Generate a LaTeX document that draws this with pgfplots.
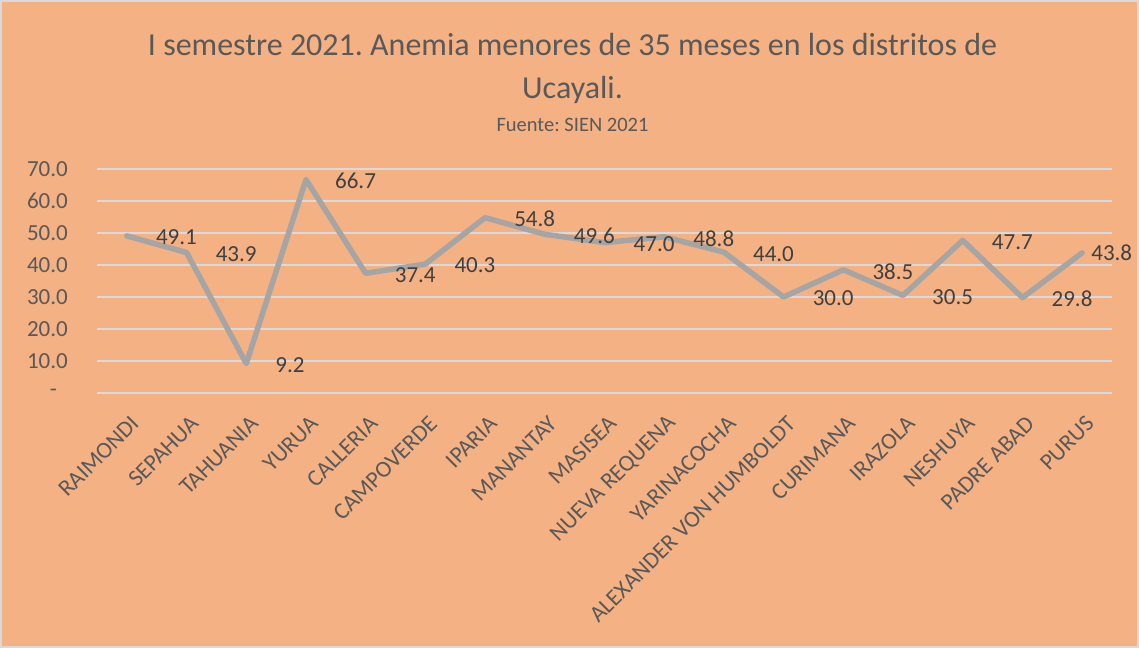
\documentclass[border=0pt]{standalone}
\usepackage{pgfplots}
\usepackage{pgfplotstable}
\pgfplotsset{compat=1.18}
\usepackage{fontspec}
\setmainfont{Carlito}
\frenchspacing
\definecolor{bg}{HTML}{F4B183}
\definecolor{gridc}{HTML}{DADADA}
\definecolor{linec}{HTML}{A5A5A5}
\definecolor{txt}{HTML}{595959}
\definecolor{lbl}{HTML}{404040}
\definecolor{brd}{HTML}{D9D9D9}

\pgfplotstableread{
x y
0 49.1
1 43.9
2 9.2
3 66.7
4 37.4
5 40.3
6 54.8
7 49.6
8 47.0
9 48.8
10 44.0
11 30.0
12 38.5
13 30.5
14 47.7
15 29.8
16 43.8
}\datatable

\begin{document}
\begin{tikzpicture}[x=1pt,y=1pt]
\fill[bg] (0,0) rectangle (1139,648);
\draw[brd, line width=2pt] (1,1) rectangle (1138,647);
\node[anchor=base, text=txt, inner sep=0pt, font=\fontsize{32}{38}\selectfont] at (572.5,592) {I semestre 2021. Anemia menores de 35 meses en los distritos de};
\node[anchor=base, text=txt, inner sep=0pt, font=\fontsize{32}{38}\selectfont] at (572.5,549) {Ucayali.};
\node[anchor=base, text=txt, inner sep=0pt, font=\fontsize{20.5}{24}\selectfont] at (572.5,516) {Fuente: SIEN 2021};
\begin{axis}[
  at={(97pt,255pt)}, anchor=south west,
  scale only axis, width=1015pt, height=224pt,
  xmin=-0.5, xmax=16.5, ymin=0, ymax=70,
  axis line style={draw=none},
  clip=false,
  major tick length=0pt,
  ymajorgrids, grid style={gridc, line width=1.5pt},
  ytick={0,10,...,70},
  yticklabels={{-\kern11pt},10.0,20.0,30.0,40.0,50.0,60.0,70.0},
  yticklabel style={font=\fontsize{23}{27}\selectfont, text=txt, inner sep=0pt, anchor=east, xshift=-29pt},
  xtick={0,...,16},
  xticklabels={RAIMONDI,SEPAHUA,TAHUANIA,YURUA,CALLERIA,CAMPOVERDE,IPARIA,MANANTAY,MASISEA,NUEVA REQUENA,YARINACOCHA,ALEXANDER VON HUMBOLDT,CURIMANA,IRAZOLA,NESHUYA,PADRE ABAD,PURUS},
  xticklabel style={font=\fontsize{23.3}{27}\selectfont, text=txt, inner sep=0pt, xshift=8pt, yshift=-27pt, rotate=45, anchor=east},
]
\addplot[linec, line width=5.5pt, mark=none, line join=round, line cap=round] table[x=x,y=y] {\datatable};
\addplot[draw=none, mark=none, skip coords between index={16}{17},
  nodes near coords={\pgfmathprintnumber[fixed,fixed zerofill,precision=1,assume math mode=true]{\pgfplotspointmeta}},
  every node near coord/.append style={anchor=west, inner sep=0pt, xshift=29pt, yshift=-1.5pt, text=lbl, font=\fontsize{23}{27}\selectfont}
] table[x=x,y=y] {\datatable};
\addplot[draw=none, mark=none, skip coords between index={0}{16},
  nodes near coords={\pgfmathprintnumber[fixed,fixed zerofill,precision=1,assume math mode=true]{\pgfplotspointmeta}},
  every node near coord/.append style={anchor=west, inner sep=0pt, xshift=9pt, yshift=0pt, text=lbl, font=\fontsize{23}{27}\selectfont}
] table[x=x,y=y] {\datatable};
\end{axis}
\end{tikzpicture}
\end{document}
